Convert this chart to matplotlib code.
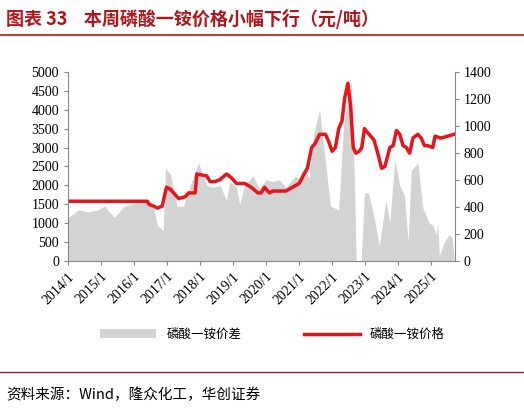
import matplotlib
matplotlib.use("Agg")
import matplotlib.pyplot as plt

plt.rcParams['font.family'] = ['Liberation Serif', 'Noto Sans CJK SC']

spread_t = [2014.0,2014.3,2014.6,2014.9,2015.1,2015.4,2015.7,2015.95,2016.2,2016.5,2016.6,2016.7,2016.88,2016.95,2017.1,2017.3,2017.5,2017.7,2017.95,2018.2,2018.4,2018.6,2018.8,2018.9,2019.1,2019.2,2019.35,2019.6,2019.8,2020.0,2020.2,2020.4,2020.6,2020.9,2021.05,2021.15,2021.3,2021.45,2021.62,2021.75,2021.95,2022.2,2022.35,2022.58,2022.68,2022.73,2022.88,2022.98,2023.1,2023.25,2023.43,2023.63,2023.75,2023.9,2024.05,2024.2,2024.3,2024.4,2024.6,2024.75,2024.95,2025.05,2025.15,2025.2,2025.25,2025.4,2025.55,2025.65,2025.7]
spread_left = [1150,1350,1300,1350,1450,1150,1450,1500,1600,1500,1400,950,800,2450,2300,1450,1450,2000,2600,2000,1950,2000,1600,2100,1950,1500,2000,2250,1900,2150,2100,2150,1950,2250,2100,2400,2200,3400,4000,3000,1450,1350,3600,4750,2000,0,0,1800,1800,1250,400,1600,1000,2700,2000,1700,500,2400,2600,1400,1000,950,700,1000,150,500,700,600,0]
spread = [v * 1400 / 5000 for v in spread_left]

price_pts = [(2014.0,1580),(2016.4,1580),(2016.45,1500),(2016.6,1450),(2016.7,1400),(2016.85,1450),(2016.98,1950),
             (2017.1,1900),(2017.2,1800),(2017.35,1650),(2017.55,1700),(2017.65,1800),(2017.85,1800),(2017.9,2300),
             (2018.2,2250),(2018.3,2100),(2018.45,2100),(2018.6,2150),(2018.8,2300),(2018.95,2200),(2019.1,2050),
             (2019.35,2050),(2019.55,1950),(2019.75,1800),(2019.85,1800),(2019.95,1950),(2020.1,1800),(2020.2,1850),
             (2020.6,1850),(2020.9,2000),(2021.0,2050),(2021.15,2300),(2021.25,2450),(2021.38,3000),(2021.48,3100),
             (2021.62,3350),(2021.8,3350),(2021.9,3150),(2022.0,2900),(2022.1,3000),(2022.2,3500),(2022.3,3700),
             (2022.38,4300),(2022.48,4700),(2022.56,4100),(2022.64,3000),(2022.72,2850),(2022.82,2900),(2022.9,3000),
             (2022.98,3500),(2023.12,3350),(2023.27,3200),(2023.4,2800),(2023.5,2450),(2023.6,2500),(2023.75,3000),
             (2023.85,3050),(2023.95,3450),(2024.05,3350),(2024.15,3050),(2024.25,3000),(2024.35,2850),(2024.45,3250),
             (2024.6,3350),(2024.7,3250),(2024.8,3050),(2024.9,3050),(2025.05,3000),(2025.12,3300),(2025.3,3250),
             (2025.5,3300),(2025.7,3350)]
price_t = [p[0] for p in price_pts]
price = [p[1] for p in price_pts]

years = list(range(2014, 2026))
labels = [f"{y}/1" for y in years]

fig = plt.figure(figsize=(5.24, 4.13), dpi=100)
fig.text(0.012, 0.955, "图表 33    本周磷酸一铵价格小幅下行（元/吨）", fontsize=13, fontweight='bold',
         color='#b0161c', family=['Noto Sans CJK SC'], va='center')
fig.add_artist(plt.Line2D([0.0, 1.0], [0.915, 0.915], color='#b0161c', lw=1.2))

ax = fig.add_axes([0.13, 0.368, 0.738, 0.458])
ax2 = ax.twinx()
ax2.fill_between(spread_t, spread, color='#d3d3d3', lw=0, label='磷酸一铵价差')
ax.plot(price_t, price, color='#e8141c', lw=2.5, label='磷酸一铵价格')
ax.set_zorder(ax2.get_zorder() + 1); ax.patch.set_visible(False)
ax.set_xlim(2014.0, 2025.72)
ax.set_ylim(0, 5000); ax.set_yticks(range(0, 5001, 500))
ax2.set_ylim(0, 1400); ax2.set_yticks(range(0, 1401, 200))
ax.set_xticks(years); ax.set_xticklabels(labels, rotation=45, ha='right', rotation_mode='anchor')
for a in (ax, ax2):
    a.tick_params(labelsize=10, length=3, color='#888888')
    a.spines['top'].set_visible(False)
ax.spines['right'].set_visible(False)
ax2.spines['left'].set_visible(False)
ax2.spines['right'].set_color('#888888')
ax.spines['left'].set_color('#888888'); ax.spines['bottom'].set_color('#888888')
ax2.spines['bottom'].set_visible(False)

h1, l1 = ax2.get_legend_handles_labels(); h2, l2 = ax.get_legend_handles_labels()
fig.legend(h1 + h2, l1 + l2, loc='center', bbox_to_anchor=(0.52, 0.19), ncol=2, frameon=False,
           prop={'family': 'Noto Sans CJK SC', 'size': 9}, columnspacing=5, handlelength=4.5)
fig.add_artist(plt.Line2D([0.0, 1.0], [0.1, 0.1], color='#b0161c', lw=1.0))
fig.text(0.012, 0.045, "资料来源：Wind，隆众化工，华创证券", fontsize=10.5, style='italic',
         family=['Noto Sans CJK SC'], va='center')
fig.savefig("out.png", dpi=100)
